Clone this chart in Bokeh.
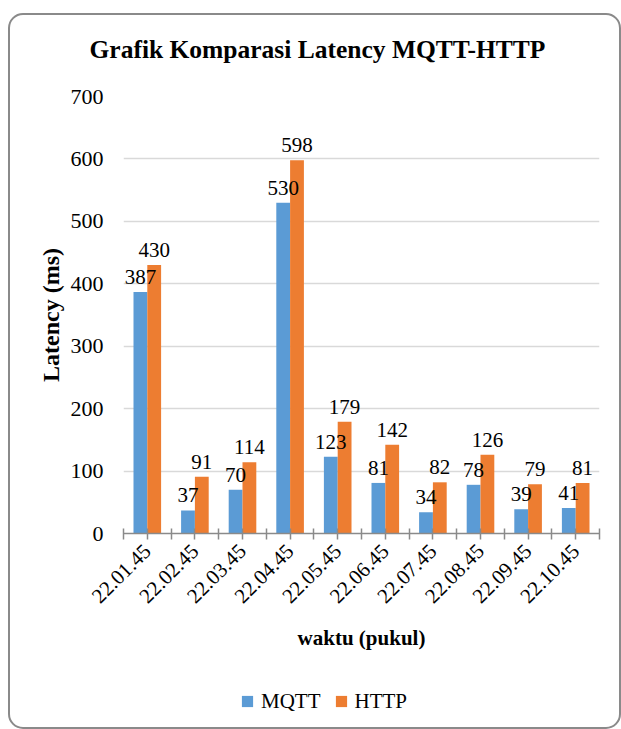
from bokeh.plotting import figure
from bokeh.layouts import column
from bokeh.models import (ColumnDataSource, FixedTicker, CustomJSTickFormatter,
                          Legend, LegendItem, Range1d, Title)
from bokeh.embed import file_html
from bokeh.resources import INLINE

times = ["22.01.45", "22.02.45", "22.03.45", "22.04.45", "22.05.45",
         "22.06.45", "22.07.45", "22.08.45", "22.09.45", "22.10.45"]
mqtt = [387, 37, 70, 530, 123, 81, 34, 78, 39, 41]
http = [430, 91, 114, 598, 179, 142, 82, 126, 79, 81]
y_ticks = [0, 100, 200, 300, 400, 500, 600, 700]
series = ["MQTT", "HTTP"]

FONT = "Liberation Serif"
BLUE = "#5B9BD5"
ORANGE = "#ED7D31"
BAR_W = 0.29

idx = list(range(len(times)))
src_m = ColumnDataSource(dict(x=[i + 0.5 - BAR_W / 2 for i in idx], y=mqtt,
                              lbl=[str(v) for v in mqtt]))
src_h = ColumnDataSource(dict(x=[i + 0.5 + BAR_W / 2 for i in idx], y=http,
                              lbl=[str(v) for v in http]))

p = figure(width=609, height=660, output_backend="svg", toolbar_location=None,
           title=None,
           x_range=Range1d(0, len(times)), y_range=Range1d(0, 700),
           min_border_left=113, min_border_right=20, min_border_top=81,
           min_border_bottom=142)
p.outline_line_color = None
p.background_fill_color = "white"
p.border_fill_alpha = 0

title = Title(text="Grafik Komparasi Latency MQTT-HTTP", text_font=FONT,
              text_font_size="25.5px", text_font_style="bold", text_color="black",
              align="left", offset=-34, standoff=10,
              padding=dict(left=0, right=0, top=0, bottom=28))
p.add_layout(title, "above")

p.vbar(x="x", top="y", width=BAR_W, source=src_m, fill_color=BLUE, line_color=None)
p.vbar(x="x", top="y", width=BAR_W, source=src_h, fill_color=ORANGE, line_color=None)

for s in (src_m, src_h):
    p.text(x="x", y="y", text="lbl", source=s, text_align="center",
           text_baseline="alphabetic", y_offset=-15, text_font_size="21px",
           text_font={"value": FONT}, text_color="black")

# x axis
p.xaxis.ticker = FixedTicker(ticks=[i * 0.5 for i in range(2 * len(times) + 1)])
p.xaxis.formatter = CustomJSTickFormatter(args=dict(labels=times), code="""
    const i = Math.round(tick - 0.5);
    if (Math.abs(tick - i - 0.5) < 1e-6 && i >= 0 && i < labels.length) { return labels[i]; }
    return "";
""")
p.xaxis.major_label_orientation = 0.785398
p.xaxis.major_label_text_font = FONT
p.xaxis.major_label_text_font_size = "21px"
p.xaxis.major_label_text_color = "black"
p.xaxis.major_label_standoff = 8
p.xaxis.axis_line_color = "#8a8a8a"
p.xaxis.axis_line_width = 1.5
p.xaxis.major_tick_line_color = "#8a8a8a"
p.xaxis.major_tick_line_width = 1.5
p.xaxis.major_tick_in = 5
p.xaxis.major_tick_out = 6
p.xaxis.minor_tick_line_color = None
p.xaxis.axis_label = "waktu (pukul)"
p.xaxis.axis_label_text_font = FONT
p.xaxis.axis_label_text_font_size = "21px"
p.xaxis.axis_label_text_font_style = "bold"
p.xaxis.axis_label_text_color = "black"
p.xaxis.axis_label_standoff = 14

# y axis
p.yaxis.ticker = FixedTicker(ticks=y_ticks)
p.yaxis.axis_line_color = None
p.yaxis.major_tick_line_color = None
p.yaxis.minor_tick_line_color = None
p.yaxis.major_label_text_font = FONT
p.yaxis.major_label_text_font_size = "22px"
p.yaxis.major_label_text_color = "black"
p.yaxis.major_label_standoff = 14
p.yaxis.axis_label = "Latency (ms)"
p.yaxis.axis_label_text_font = FONT
p.yaxis.axis_label_text_font_size = "24px"
p.yaxis.axis_label_text_font_style = "bold"
p.yaxis.axis_label_text_color = "black"
p.yaxis.axis_label_standoff = 4

p.xgrid.grid_line_color = None
p.ygrid.grid_line_color = "#d9d9d9"
p.ygrid.grid_line_width = 1.3

# legend strip (swatch renderers are zero-size, only the legend shows them)
lf = figure(width=609, height=52, output_backend="svg", toolbar_location=None,
            x_axis_type=None, y_axis_type=None, title=None,
            x_range=Range1d(0, 1), y_range=Range1d(0, 1), min_border=0)
lf.outline_line_color = None
lf.border_fill_alpha = 0
lf.background_fill_alpha = 0
lf.xgrid.grid_line_color = None
lf.ygrid.grid_line_color = None
sw_m = lf.scatter(x=[0], y=[0], size=0, marker="square", fill_color=BLUE, line_color=None)
sw_h = lf.scatter(x=[0], y=[0], size=0, marker="square", fill_color=ORANGE, line_color=None)
legend = Legend(items=[LegendItem(label=series[0], renderers=[sw_m]),
                       LegendItem(label=series[1], renderers=[sw_h])],
                orientation="horizontal", location=(110, 12),
                glyph_width=28, glyph_height=28, label_standoff=0, spacing=6,
                padding=0, margin=0, border_line_color=None,
                background_fill_alpha=0,
                label_text_font=FONT, label_text_font_size="21px",
                label_text_color="black")
lf.add_layout(legend, "center")

layout = column(p, lf, spacing=0)
layout.styles = {"margin-left": "8px", "margin-top": "13px",
                 "border": "2px solid #8a8a8a", "border-radius": "15px",
                 "box-sizing": "content-box"}

open("out.html", "w").write(file_html(layout, INLINE))
